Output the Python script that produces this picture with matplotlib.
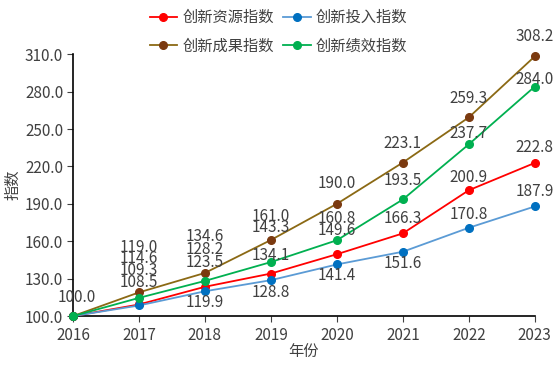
import matplotlib
matplotlib.use("Agg")
import matplotlib.pyplot as plt

plt.rcParams['font.family'] = ['Noto Sans CJK SC', 'DejaVu Sans']

# 数据
years = [2016, 2017, 2018, 2019, 2020, 2021, 2022, 2023]
ziyuan = [100.0, 109.3, 123.5, 134.1, 149.6, 166.3, 200.9, 222.8]
touru = [100.0, 108.5, 119.9, 128.8, 141.4, 151.6, 170.8, 187.9]
chengguo = [100.0, 119.0, 134.6, 161.0, 190.0, 223.1, 259.3, 308.2]
jixiao = [100.0, 114.6, 128.2, 143.3, 160.8, 193.5, 237.7, 284.0]
names = ['创新资源指数', '创新投入指数', '创新成果指数', '创新绩效指数']

# 标签相对标记点的竖直偏移（像素，None = 不显示）
off_ziyuan = [None, 34, 24, 18, 24, 15, 13, 15]
off_touru = [None, 23, -11, -12, -11, -12, 13, 15]
off_chengguo = [None, 45, 36, 24, 20, 19, 19, 20]
off_jixiao = [19, 39, 31, 35, 22, 19, 11, 7]

txt = '#404040'
fs = 11
fig = plt.figure(figsize=(5.53, 3.71), dpi=100)
ax = fig.add_axes([0.132, 0.148, 0.835, 0.706])

series = [
    (ziyuan, off_ziyuan, names[0], '#FF0000', '#FF0000'),
    (touru, off_touru, names[1], '#5B9BD5', '#0070C0'),
    (chengguo, off_chengguo, names[2], '#8B6914', '#7B3A10'),
    (jixiao, off_jixiao, names[3], '#00B050', '#00B050'),
]
lines = {}
for vals, offs, nm, lc, mc in series:
    ln, = ax.plot(years, vals, color=lc, lw=1.3, marker='o', ms=5.5,
                  mfc=mc, mec=mc, label=nm, clip_on=False, zorder=3)
    lines[nm] = ln
    for x, v, dy in zip(years, vals, offs):
        if dy is None:
            continue
        dx = 4 if x == years[0] else 0
        ax.annotate(f'{v:.1f}', (x, v), xytext=(dx, dy), textcoords='offset pixels',
                    ha='center', va='center', fontsize=fs, color=txt, zorder=5)

ax.set_xlim(2016, 2023)
ax.set_ylim(100, 310)
ax.set_yticks(range(100, 311, 30))
ax.set_yticklabels([f'{v:.1f}' for v in range(100, 311, 30)])
ax.set_xticks(years)
ax.tick_params(colors=txt, labelsize=fs, length=4, direction='out')
ax.tick_params(axis='x', pad=4)
ax.tick_params(axis='y', pad=3)
for s in ['top', 'right']:
    ax.spines[s].set_visible(False)
for s in ['left', 'bottom']:
    ax.spines[s].set_color('black')
    ax.spines[s].set_linewidth(1.2)
ax.set_xlabel('年份', fontsize=fs, color=txt, labelpad=-1)
ax.set_ylabel('指数', fontsize=fs, color=txt, labelpad=3)

order = [names[0], names[2], names[1], names[3]]
ax.legend([lines[n] for n in order], order, loc='lower center',
          bbox_to_anchor=(0.445, 0.975), ncol=2, frameon=False,
          fontsize=fs, labelcolor=txt, handlelength=1.8, columnspacing=0.6,
          handletextpad=0.35, borderaxespad=0.0, labelspacing=0.75)

fig.savefig('out.png', dpi=100)
